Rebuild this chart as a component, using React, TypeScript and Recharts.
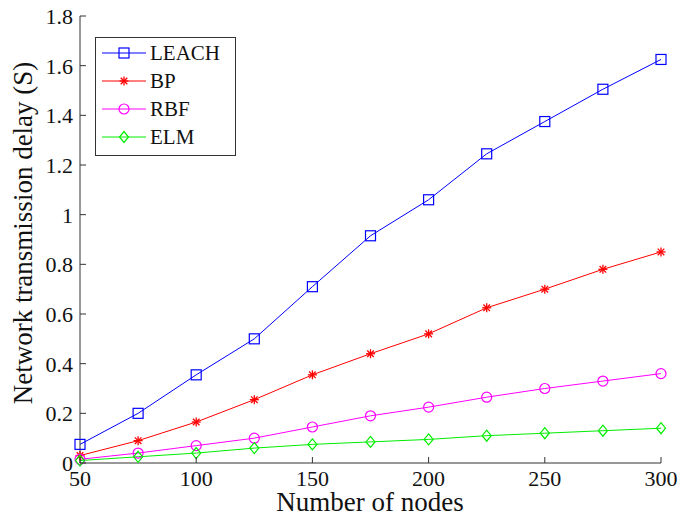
import React from 'react';
import { LineChart, Line, XAxis, YAxis } from 'recharts';

const nodes = [50, 75, 100, 125, 150, 175, 200, 225, 250, 275, 300];
const leach = [0.075, 0.2, 0.355, 0.5, 0.71, 0.915, 1.06, 1.245, 1.375, 1.505, 1.625];
const bp = [0.03, 0.09, 0.165, 0.255, 0.355, 0.44, 0.52, 0.625, 0.7, 0.78, 0.85];
const rbf = [0.015, 0.04, 0.07, 0.1, 0.145, 0.19, 0.225, 0.265, 0.3, 0.33, 0.36];
const elm = [0.01, 0.025, 0.04, 0.06, 0.075, 0.085, 0.095, 0.11, 0.12, 0.13, 0.14];
const xTicks = [50, 100, 150, 200, 250, 300];
const yTicks = [0, 0.2, 0.4, 0.6, 0.8, 1, 1.2, 1.4, 1.6, 1.8];
const yTickLabels = ['0', '0.2', '0.4', '0.6', '0.8', '1', '1.2', '1.4', '1.6', '1.8'];
const xTitle = 'Number of nodes';
const yTitle = 'Network transmission delay (S)';

const data = nodes.map((n, i) => ({ n, leach: leach[i], bp: bp[i], rbf: rbf[i], elm: elm[i] }));

const FONT = '"Liberation Serif", "Times New Roman", serif';
const AXIS = '#333';
const C = { leach: '#0000ff', bp: '#ff0000', rbf: '#ff00ff', elm: '#00ee00' };

const Square = ({ cx, cy, color }: any) => (
  <rect x={cx - 5} y={cy - 5} width={10} height={10} fill="none" stroke={color} strokeWidth={1.2} />
);
const Star = ({ cx, cy, color }: any) => (
  <g stroke={color} strokeWidth={1.3}>
    <line x1={cx - 4.5} y1={cy} x2={cx + 4.5} y2={cy} />
    <line x1={cx} y1={cy - 4.5} x2={cx} y2={cy + 4.5} />
    <line x1={cx - 3.3} y1={cy - 3.3} x2={cx + 3.3} y2={cy + 3.3} />
    <line x1={cx - 3.3} y1={cy + 3.3} x2={cx + 3.3} y2={cy - 3.3} />
  </g>
);
const Circle = ({ cx, cy, color }: any) => (
  <circle cx={cx} cy={cy} r={5} fill="none" stroke={color} strokeWidth={1.2} />
);
const Diamond = ({ cx, cy, color }: any) => (
  <polygon points={`${cx},${cy - 5.5} ${cx + 4.5},${cy} ${cx},${cy + 5.5} ${cx - 4.5},${cy}`} fill="none" stroke={color} strokeWidth={1.2} />
);

const mk = (Comp: any, color: string) => (p: any) =>
  p.cx == null ? <g key={p.key} /> : <Comp key={p.key} cx={p.cx} cy={p.cy} color={color} />;

const BottomTick = ({ x, y, payload }: any) => (
  <g>
    <line x1={x} y1={y} x2={x} y2={y - 6} stroke={AXIS} />
    <text x={x} y={y + 23} textAnchor="middle" fontFamily={FONT} fontSize={22} fill="#111">{payload.value}</text>
  </g>
);
const TopTick = ({ x, y }: any) => (
  <line x1={x} y1={y} x2={x} y2={y + 6} stroke={AXIS} />
);
const LeftTick = ({ x, y, payload, index }: any) => (
  <g>
    <line x1={x} y1={y} x2={x + 6} y2={y} stroke={AXIS} />
    <text x={x - 7} y={y + 8} textAnchor="end" fontFamily={FONT} fontSize={22} fill="#111">{yTickLabels[index] ?? payload.value}</text>
  </g>
);
const RightTick = ({ x, y }: any) => (
  <line x1={x} y1={y} x2={x - 6} y2={y} stroke={AXIS} />
);

const XTitle = () => (
  <text x={370} y={511} textAnchor="middle" fontFamily={FONT} fontSize={27} fill="#111">{xTitle}</text>
);
const YTitle = () => (
  <text x={32} y={233} transform="rotate(-90 32 233)" textAnchor="middle" fontFamily={FONT} fontSize={27} fill="#111">{yTitle}</text>
);

const legendItems = [
  { name: 'LEACH', color: C.leach, M: Square },
  { name: 'BP', color: C.bp, M: Star },
  { name: 'RBF', color: C.rbf, M: Circle },
  { name: 'ELM', color: C.elm, M: Diamond },
];

export default function App() {
  return (
    <div style={{ position: 'relative', width: 680, height: 517, background: '#fff' }}>
      <style>{'html, body { margin: 0; padding: 0; background: #fff; }'}</style>
      <LineChart width={680} height={517} data={data} margin={{ top: 16, right: 19, bottom: 0, left: 0 }}>
        <XAxis dataKey="n" type="number" domain={[50, 300]} ticks={xTicks} axisLine={{ stroke: AXIS }} tickLine={false}
          tickSize={0} tickMargin={0} tick={<BottomTick />} height={54} label={{ content: () => <XTitle /> }} />
        <XAxis xAxisId="top" orientation="top" dataKey="n" type="number" domain={[50, 300]} ticks={xTicks} axisLine={{ stroke: AXIS }}
          tickLine={false} tickSize={0} tickMargin={0} tick={<TopTick />} height={0} />
        <YAxis type="number" domain={[0, 1.8]} ticks={yTicks} axisLine={{ stroke: AXIS }} tickLine={false} tickSize={0} tickMargin={0}
          tick={<LeftTick />} width={80} interval={0} label={{ content: () => <YTitle /> }} />
        <YAxis yAxisId="right" orientation="right" type="number" domain={[0, 1.8]} ticks={yTicks} axisLine={{ stroke: AXIS }}
          tickLine={false} tickSize={0} tickMargin={0} tick={<RightTick />} width={0} interval={0} />
        <Line dataKey="leach" stroke={C.leach} strokeWidth={1} dot={mk(Square, C.leach)} isAnimationActive={false} />
        <Line dataKey="bp" stroke={C.bp} strokeWidth={1} dot={mk(Star, C.bp)} isAnimationActive={false} />
        <Line dataKey="rbf" stroke={C.rbf} strokeWidth={1} dot={mk(Circle, C.rbf)} isAnimationActive={false} />
        <Line dataKey="elm" stroke={C.elm} strokeWidth={1} dot={mk(Diamond, C.elm)} isAnimationActive={false} />
      </LineChart>
      <svg style={{ position: 'absolute', left: 95, top: 37 }} width={142} height={120}>
        <rect x={0.5} y={0.5} width={140} height={118} fill="#fff" stroke={AXIS} />
        {legendItems.map((it, i) => {
          const cy = 16 + i * 28;
          return (
            <g key={it.name}>
              <line x1={7} y1={cy} x2={51} y2={cy} stroke={it.color} />
              <it.M cx={29} cy={cy} color={it.color} />
              <text x={55} y={cy + 7} fontFamily={FONT} fontSize={21} fill="#111">{it.name}</text>
            </g>
          );
        })}
      </svg>
    </div>
  );
}
